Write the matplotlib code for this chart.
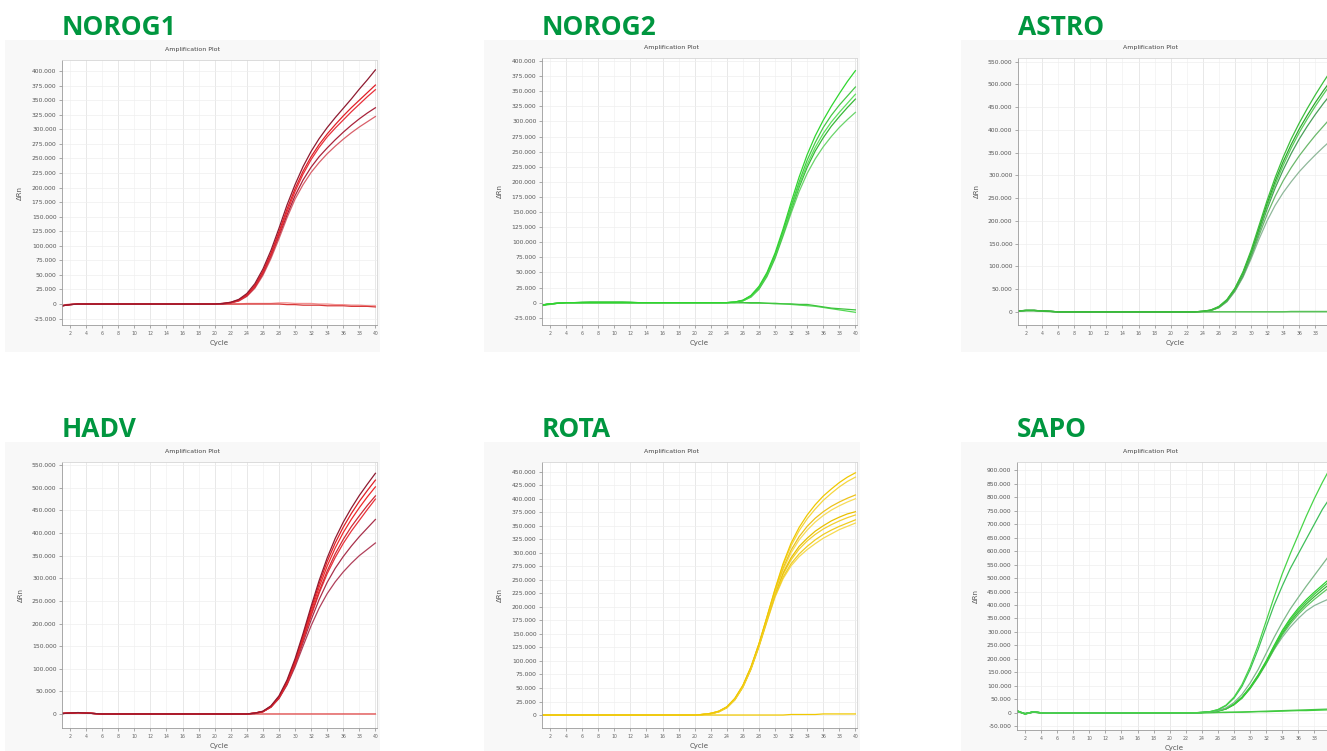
import matplotlib
matplotlib.use("Agg")
import matplotlib.pyplot as plt
from matplotlib.patches import Rectangle
from matplotlib.ticker import FuncFormatter

# ---------------- data (ΔRn in thousands, cycles 1..40) ----------------
cycles = list(range(1, 41))

panel_titles = ["NOROG1", "NOROG2", "ASTRO", "HADV", "ROTA", "SAPO"]

# NOROG1
n1_a = [-3, -1, 0, 0, 0, 0, 0, 0, 0, 0,  0, 0, 0, 0, 0, 0, 0, 0, 0, 0,
        1, 3, 8, 18, 35, 60, 92, 130, 170, 205,  236, 262, 284, 303, 320, 336, 352, 369, 385, 402]
n1_b = [-3, -1, 0, 0, 0, 0, 0, 0, 0, 0,  0, 0, 0, 0, 0, 0, 0, 0, 0, 0,
        1, 3, 7, 16, 32, 56, 87, 124, 163, 198,  228, 253, 274, 292, 308, 323, 337, 350, 363, 376]
n1_c = [-3, -1, 0, 0, 0, 0, 0, 0, 0, 0,  0, 0, 0, 0, 0, 0, 0, 0, 0, 0,
        1, 2, 6, 15, 30, 54, 84, 120, 158, 193,  223, 248, 269, 287, 302, 316, 330, 343, 356, 368]
n1_d = [-3, -1, 0, 0, 0, 0, 0, 0, 0, 0,  0, 0, 0, 0, 0, 0, 0, 0, 0, 0,
        0, 2, 6, 14, 29, 52, 82, 117, 153, 186,  213, 235, 253, 268, 282, 295, 307, 318, 328, 337]
n1_e = [-3, -1, 0, 0, 0, 0, 0, 0, 0, 0,  0, 0, 0, 0, 0, 0, 0, 0, 0, 0,
        0, 2, 5, 13, 27, 49, 78, 112, 148, 180,  205, 226, 243, 258, 271, 283, 294, 304, 313, 322]
n1_neg1 = [-3, -1, 0, 0, 0, 0, 0, 0, 0, 0,  0, 0, 0, 0, 0, 0, 0, 0, 0, 0,
           0, 0, 0, 0, 0, 0, 0, 0, -1, -1,  -2, -2, -2, -3, -3, -3, -4, -4, -4, -5]
n1_neg2 = [-2, 0, 0, 0, 0, 0, 0, 0, 0, 0,  0, 0, 0, 0, 0, 0, 0, 0, 0, 0,
           0, 0, 0, 1, 1, 1, 1, 2, 2, 1,  1, 1, 0, 0, -1, -1, -2, -2, -3, -3]

# NOROG2
n2_a = [-4, -2, -1, 0, 0, 0, 0, 0, 0, 0,  0, 0, 0, 0, 0, 0, 0, 0, 0, 0,
        0, 0, 0, 0, 1, 4, 12, 27, 50, 82,  122, 166, 208, 245, 276, 302, 325, 346, 366, 384]
n2_b = [-4, -2, -1, 0, 0, 0, 0, 0, 0, 0,  0, 0, 0, 0, 0, 0, 0, 0, 0, 0,
        0, 0, 0, 0, 1, 4, 11, 25, 48, 79,  118, 160, 200, 236, 265, 290, 310, 327, 342, 357]
n2_c = [-4, -2, -1, 0, 0, 0, 0, 0, 0, 0,  0, 0, 0, 0, 0, 0, 0, 0, 0, 0,
        0, 0, 0, 0, 1, 3, 10, 24, 46, 77,  115, 156, 195, 229, 257, 280, 299, 315, 330, 345]
n2_d = [-4, -2, -1, 0, 0, 0, 0, 0, 0, 0,  0, 0, 0, 0, 0, 0, 0, 0, 0, 0,
        0, 0, 0, 0, 1, 3, 10, 23, 45, 75,  113, 153, 191, 224, 251, 273, 292, 308, 323, 337]
n2_e = [-4, -2, -1, 0, 0, 0, 0, 0, 0, 0,  0, 0, 0, 0, 0, 0, 0, 0, 0, 0,
        0, 0, 0, 0, 0, 3, 9, 22, 43, 73,  110, 148, 184, 214, 238, 258, 275, 290, 303, 315]
n2_neg1 = [-4, -2, -1, 0, 0, 1, 1, 1, 1, 1,  1, 1, 0, 0, 0, 0, 0, 0, 0, 0,
           0, 0, 0, 0, 0, 0, 0, 0, -1, -1,  -2, -2, -3, -3, -5, -7, -9, -10, -11, -12]
n2_neg2 = [-5, -3, -1, 0, 0, 0, 1, 1, 1, 1,  1, 0, 0, 0, 0, 0, 0, 0, 0, 0,
           0, 0, 0, 0, 0, 0, -1, -1, -1, -2,  -2, -3, -4, -5, -6, -8, -10, -12, -14, -16]

# ASTRO
as_a = [2, 3, 3, 2, 1, 0, 0, 0, 0, 0,  0, 0, 0, 0, 0, 0, 0, 0, 0, 0,
        0, 0, 0, 1, 4, 12, 27, 52, 88, 135,  190, 245, 295, 340, 380, 415, 447, 477, 505, 532]
as_b = [2, 3, 3, 2, 1, 0, 0, 0, 0, 0,  0, 0, 0, 0, 0, 0, 0, 0, 0, 0,
        0, 0, 0, 1, 3, 10, 25, 50, 84, 128,  180, 232, 280, 322, 360, 394, 424, 452, 478, 503]
as_c = [2, 3, 3, 2, 1, 0, 0, 0, 0, 0,  0, 0, 0, 0, 0, 0, 0, 0, 0, 0,
        0, 0, 0, 1, 3, 10, 24, 48, 80, 124,  175, 226, 272, 312, 348, 380, 408, 434, 458, 480]
as_d = [2, 3, 3, 2, 1, 0, 0, 0, 0, 0,  0, 0, 0, 0, 0, 0, 0, 0, 0, 0,
        0, 0, 0, 1, 3, 9, 23, 46, 78, 120,  168, 214, 254, 288, 317, 343, 366, 388, 408, 428]
as_e = [2, 3, 3, 2, 1, 0, 0, 0, 0, 0,  0, 0, 0, 0, 0, 0, 0, 0, 0, 0,
        0, 0, 0, 1, 3, 9, 22, 45, 76, 116,  160, 200, 234, 262, 286, 308, 327, 345, 362, 378]
as_f = [2, 3, 3, 2, 1, 0, 0, 0, 0, 0,  0, 0, 0, 0, 0, 0, 0, 0, 0, 0,
        0, 0, 0, 1, 4, 11, 26, 51, 86, 131,  184, 238, 287, 330, 368, 402, 432, 460, 486, 510]
as_neg1 = [2, 3, 3, 2, 1, 0, 0, 0, 0, 0,  0, 0, 0, 0, 0, 0, 0, 0, 0, 0,
           0, 0, 0, 0, 0, 0, 0, 0, 0, 0,  0, 0, 0, 0, 0, 0, 0, 0, 0, 0]
as_neg2 = [1, 2, 2, 1, 0, 0, 0, 0, 0, 0,  0, 0, 0, 0, 0, 0, 0, 0, 0, 0,
           0, 0, 0, 0, 0, 0, 0, 0, 0, 0,  0, 0, 0, 0, 1, 1, 1, 1, 1, 1]

# HADV
hd_a = [1, 2, 3, 2, 1, 0, 0, 0, 0, 0,  0, 0, 0, 0, 0, 0, 0, 0, 0, 0,
        0, 0, 0, 0, 2, 6, 18, 40, 75, 122,  178, 238, 295, 345, 388, 424, 455, 483, 508, 532]
hd_b = [1, 2, 3, 2, 1, 0, 0, 0, 0, 0,  0, 0, 0, 0, 0, 0, 0, 0, 0, 0,
        0, 0, 0, 0, 2, 6, 17, 38, 72, 118,  173, 232, 288, 337, 378, 413, 443, 470, 494, 517]
hd_c = [1, 2, 3, 2, 1, 0, 0, 0, 0, 0,  0, 0, 0, 0, 0, 0, 0, 0, 0, 0,
        0, 0, 0, 0, 2, 5, 16, 37, 70, 115,  169, 226, 280, 327, 367, 401, 430, 456, 480, 502]
hd_d = [1, 2, 3, 2, 1, 0, 0, 0, 0, 0,  0, 0, 0, 0, 0, 0, 0, 0, 0, 0,
        0, 0, 0, 0, 2, 5, 16, 36, 68, 112,  165, 220, 271, 316, 354, 386, 414, 438, 461, 482]
hd_e = [1, 2, 3, 2, 1, 0, 0, 0, 0, 0,  0, 0, 0, 0, 0, 0, 0, 0, 0, 0,
        0, 0, 0, 0, 2, 5, 16, 36, 68, 111,  163, 217, 267, 310, 346, 377, 404, 428, 452, 475]
hd_f = [1, 2, 3, 2, 1, 0, 0, 0, 0, 0,  0, 0, 0, 0, 0, 0, 0, 0, 0, 0,
        0, 0, 0, 0, 1, 5, 15, 35, 66, 108,  158, 208, 253, 291, 322, 348, 371, 392, 411, 430]
hd_g = [1, 2, 3, 2, 1, 0, 0, 0, 0, 0,  0, 0, 0, 0, 0, 0, 0, 0, 0, 0,
        0, 0, 0, 0, 1, 5, 15, 34, 64, 104,  150, 195, 234, 266, 292, 314, 333, 350, 364, 378]
hd_neg = [1, 2, 3, 2, 1, 0, 0, 0, 0, 0,  0, 0, 0, 0, 0, 0, 0, 0, 0, 0,
          0, 0, 0, 0, 0, 0, 0, 0, 0, 0,  0, 0, 0, 0, 0, 0, 0, 0, 0, 0]

# ROTA
ro_a = [0, 0, 0, 0, 0, 0, 0, 0, 0, 0,  0, 0, 0, 0, 0, 0, 0, 0, 0, 0,
        1, 3, 7, 15, 31, 55, 89, 132, 182, 233,  280, 318, 347, 370, 389, 405, 418, 430, 440, 448]
ro_b = [0, 0, 0, 0, 0, 0, 0, 0, 0, 0,  0, 0, 0, 0, 0, 0, 0, 0, 0, 0,
        1, 3, 7, 15, 30, 54, 88, 131, 181, 232,  277, 313, 341, 363, 381, 397, 410, 422, 432, 440]
ro_c = [0, 0, 0, 0, 0, 0, 0, 0, 0, 0,  0, 0, 0, 0, 0, 0, 0, 0, 0, 0,
        1, 3, 7, 15, 30, 54, 88, 131, 180, 230,  272, 305, 330, 349, 364, 376, 386, 394, 401, 407]
ro_d = [0, 0, 0, 0, 0, 0, 0, 0, 0, 0,  0, 0, 0, 0, 0, 0, 0, 0, 0, 0,
        1, 3, 6, 14, 29, 53, 87, 130, 179, 228,  268, 300, 324, 342, 357, 369, 379, 387, 394, 400]
ro_e = [0, 0, 0, 0, 0, 0, 0, 0, 0, 0,  0, 0, 0, 0, 0, 0, 0, 0, 0, 0,
        1, 3, 6, 14, 29, 53, 86, 129, 177, 225,  263, 291, 312, 327, 340, 350, 359, 366, 372, 376]
ro_f = [0, 0, 0, 0, 0, 0, 0, 0, 0, 0,  0, 0, 0, 0, 0, 0, 0, 0, 0, 0,
        1, 2, 6, 14, 29, 52, 86, 128, 176, 223,  260, 287, 307, 322, 334, 344, 352, 359, 365, 370]
ro_g = [0, 0, 0, 0, 0, 0, 0, 0, 0, 0,  0, 0, 0, 0, 0, 0, 0, 0, 0, 0,
        1, 2, 6, 14, 28, 52, 85, 127, 174, 220,  255, 280, 298, 312, 324, 334, 342, 349, 355, 361]
ro_h = [0, 0, 0, 0, 0, 0, 0, 0, 0, 0,  0, 0, 0, 0, 0, 0, 0, 0, 0, 0,
        1, 2, 6, 13, 28, 51, 84, 126, 173, 218,  252, 276, 293, 306, 317, 327, 335, 343, 349, 355]
ro_neg = [0, 0, 0, 0, 0, 0, 0, 0, 0, 0,  0, 0, 0, 0, 0, 0, 0, 0, 0, 0,
          0, 0, 0, 0, 0, 0, 0, 0, 0, 0,  0, 1, 1, 1, 1, 2, 2, 2, 2, 2]

# SAPO
sp_a = [8, -5, 4, 0, -2, -1, -1, -1, -1, -1,  -1, -1, -1, -1, 0, 0, 0, 0, 0, 0,
        0, 0, 0, 1, 4, 12, 28, 58, 105, 170,  250, 340, 430, 515, 590, 660, 730, 795, 855, 910]
sp_b = [6, -3, 3, 0, -2, -1, -1, -1, -1, -1,  -1, -1, -1, -1, 0, 0, 0, 0, 0, 0,
        0, 0, 0, 1, 4, 11, 26, 54, 98, 160,  235, 318, 400, 470, 535, 590, 645, 700, 755, 800]
sp_c = [5, -4, 3, 0, -1, -1, -1, -1, -1, -1,  -1, -1, -1, 0, 0, 0, 0, 0, 0, 0,
        0, 0, 0, 1, 3, 8, 18, 38, 68, 110,  160, 220, 280, 335, 385, 428, 470, 510, 550, 590]
sp_d = [7, -4, 3, 0, -2, -1, -1, -1, -1, -1,  -1, -1, -1, 0, 0, 0, 0, 0, 0, 0,
        0, 0, 0, 1, 3, 7, 15, 32, 58, 95,  140, 192, 250, 305, 350, 388, 420, 448, 474, 500]
sp_e = [6, -5, 2, 0, -1, -1, -1, -1, -1, -1,  -1, -1, -1, 0, 0, 0, 0, 0, 0, 0,
        0, 0, 0, 1, 3, 7, 15, 31, 57, 93,  138, 189, 246, 300, 344, 381, 412, 440, 466, 490]
sp_f = [5, -3, 3, 0, -1, -1, -1, -1, -1, -1,  -1, -1, -1, 0, 0, 0, 0, 0, 0, 0,
        0, 0, 0, 1, 2, 6, 14, 30, 55, 91,  135, 185, 241, 294, 337, 373, 404, 431, 456, 480]
sp_g = [6, -4, 2, 0, -2, -1, -1, -1, -1, -1,  -1, -1, -1, 0, 0, 0, 0, 0, 0, 0,
        0, 0, 0, 1, 2, 6, 14, 30, 54, 89,  132, 181, 236, 288, 330, 365, 395, 421, 445, 468]
sp_h = [4, -3, 2, 0, -1, -1, -1, -1, -1, -1,  -1, -1, -1, 0, 0, 0, 0, 0, 0, 0,
        0, 0, 0, 1, 3, 7, 15, 31, 56, 92,  136, 185, 235, 280, 318, 350, 378, 398, 412, 425]
sp_neg1 = [8, -5, 4, 0, -2, -1, -1, -1, -1, -1,  -1, -1, -1, -1, 0, 0, 0, 0, 0, 0,
           0, 0, 0, 0, 1, 1, 2, 2, 3, 4,  5, 6, 7, 8, 9, 10, 11, 12, 13, 14]
sp_neg2 = [5, -3, 2, 0, -1, -1, -1, -1, -1, -1,  -1, -1, -1, 0, 0, 0, 0, 0, 0, 0,
           0, 0, 0, 0, 0, 1, 1, 2, 2, 3,  4, 4, 5, 6, 7, 8, 8, 9, 10, 11]

n1_curves = [n1_neg2, n1_neg1, n1_e, n1_d, n1_c, n1_b, n1_a]
n2_curves = [n2_neg2, n2_neg1, n2_e, n2_d, n2_c, n2_b, n2_a]
as_curves = [as_neg2, as_neg1, as_e, as_d, as_c, as_b, as_f, as_a]
hd_curves = [hd_neg, hd_g, hd_f, hd_e, hd_d, hd_c, hd_b, hd_a]
ro_curves = [ro_neg, ro_h, ro_g, ro_f, ro_e, ro_d, ro_c, ro_b, ro_a]
sp_curves = [sp_neg2, sp_neg1, sp_h, sp_g, sp_f, sp_e, sp_d, sp_c, sp_b, sp_a]

# ---------------- styling / layout ----------------
W, H = 1327, 751
fig = plt.figure(figsize=(W / 100, H / 100), dpi=100)
fig.patch.set_facecolor("white")

TITLE_GREEN = "#00963f"

reds1 = ["#f39090", "#d83a3a", "#d9606a", "#a8223a", "#e8303a", "#e01e25", "#8e1a30"]
greens2 = ["#55d855", "#3ec43e", "#6ad46a", "#37b837", "#5ee05e", "#46c846", "#2fd62f"]
greens3 = ["#7fd07f", "#4fc04f", "#8fb89a", "#6bb86b", "#4a9f5a", "#5acd5a", "#2ea82e", "#3cbf3c"]
reds4 = ["#e04040", "#b0405a", "#a8304a", "#e8323a", "#d02a34", "#ee2a2a", "#e01e25", "#8e1a30"]
yellows = ["#f0c800", "#f6da50", "#f0cc20", "#f3d030", "#e9c000", "#f7dc5a", "#edc21a", "#f5d640", "#f0c800"]
greens6 = ["#3bd03b", "#45c845", "#8ab89a", "#60c860", "#38b838", "#45c845", "#30d030", "#7fb88a", "#3fbf5a", "#48d448"]

# (title, curves, colors, ax px box, ylim, ytick step, ytick range, panel box px, title baseline, clipped-right)
panels = [
    ("NOROG1", n1_curves, reds1, (62, 60, 377, 325), (-36, 419), 25, (-25, 400), (5, 40, 380, 352), 35, False),
    ("NOROG2", n2_curves, greens2, (542, 58, 857, 325), (-37, 405), 25, (-25, 400), (484, 40, 860, 352), 35, False),
    ("ASTRO", as_curves, greens3, (1018, 58, 1333, 325), (-29, 558), 50, (0, 550), (961, 40, 1340, 352), 35, True),
    ("HADV", hd_curves, reds4, (62, 462, 377, 728), (-31, 557), 50, (0, 550), (5, 442, 380, 760), 437.5, False),
    ("ROTA", ro_curves, yellows, (542, 462, 857, 728), (-24, 468), 25, (0, 450), (484, 442, 860, 760), 437.5, False),
    ("SAPO", sp_curves, greens6, (1017, 462, 1332, 730), (-64, 931), 50, (-50, 900), (961, 442, 1340, 760), 437.5, True),
]


def fmt(v, pos):
    k = int(round(v))
    if k == 0:
        return "0"
    return f"{k * 1000:,}".replace(",", ".")


for (title, curves, colors, axpx, ylim, ystep, yrng, boxpx, title_base, clipped) in panels:
    l, t, r, b = axpx
    bl, bt, br, bb = boxpx
    # light panel background box
    fig.add_artist(Rectangle((bl / W, 1 - bb / H), (br - bl) / W, (bb - bt) / H,
                             transform=fig.transFigure, facecolor="#f8f8f8",
                             edgecolor="none", zorder=-5))
    ax = fig.add_axes([l / W, 1 - b / H, (r - l) / W, (b - t) / H])
    ax.set_zorder(1)
    ax.set_facecolor("white")
    ax.set_xlim(1, 40.2)
    ax.set_ylim(*ylim)

    # grid
    for c in range(4, 41, 4):
        ax.axvline(c, color="#e4e4e4", lw=0.6, zorder=0)
    for c in range(2, 41, 4):
        ax.axvline(c, color="#f2f2f2", lw=0.5, zorder=0)
    for v in range(yrng[0], yrng[1] + 1, ystep):
        ax.axhline(v, color="#eeeeee", lw=0.5, zorder=0)

    for curve, col in zip(curves, colors):
        ax.plot(cycles, curve, color=col, lw=0.9, zorder=2)

    xt = list(range(2, 41, 2))
    ax.set_xticks(xt)
    ax.set_xticklabels([str(c) if not (clipped and c == 40) else "" for c in xt])
    ax.set_yticks(list(range(yrng[0], yrng[1] + 1, ystep)))
    ax.yaxis.set_major_formatter(FuncFormatter(fmt))
    ax.tick_params(axis="y", labelsize=4.3, colors="#888888", labelcolor="#555555",
                   length=2.5, width=0.5, pad=1.5)
    ax.tick_params(axis="x", labelsize=3.3, colors="#888888", labelcolor="#666666",
                   length=2, width=0.5, pad=2)
    for side in ("left", "bottom"):
        ax.spines[side].set_color("#9a9a9a")
        ax.spines[side].set_linewidth(0.6)
    for side in ("top", "right"):
        ax.spines[side].set_color("#d6d6d6")
        ax.spines[side].set_linewidth(0.6)

    ax.set_xlabel("Cycle", fontsize=5, color="#555555", labelpad=3)
    ax.set_ylabel("ΔRn", fontsize=5, color="#555555", labelpad=6)

    # small inner title
    fig.text(((bl + br) / 2) / W, 1 - (t - 11) / H, "Amplification Plot",
             fontsize=4.5, color="#444444", ha="center", va="center", zorder=3)
    # big green panel title
    fig.text(l / W, 1 - title_base / H, title, fontsize=19, fontweight="bold",
             family="Open Sans", color=TITLE_GREEN, ha="left", va="baseline", zorder=3)

fig.savefig("out.png", dpi=100)
